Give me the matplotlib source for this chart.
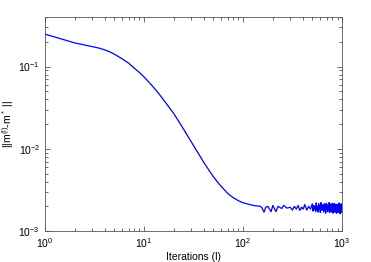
import matplotlib
matplotlib.use("Agg")
import matplotlib.pyplot as plt
from matplotlib.ticker import LogLocator, NullFormatter

plt.rcParams['font.family'] = ['Liberation Sans', 'DejaVu Sans']
plt.rcParams['mathtext.default'] = 'regular'

# smooth decay part
iters_main = [1, 1.25, 1.5, 1.75, 2, 2.5, 3, 3.5, 4, 4.5, 5, 6, 7, 8, 9, 10,
              11, 12, 13, 14, 16, 18, 20, 22, 25, 28, 32, 36, 40, 45, 50, 55,
              60, 65, 70, 75, 80, 90, 100, 115, 130, 150]
err_main = [0.248, 0.229, 0.215, 0.203, 0.194, 0.183, 0.175, 0.168, 0.160,
            0.151, 0.142, 0.1245, 0.110, 0.0955, 0.0847, 0.075, 0.0664,
            0.0592, 0.0528, 0.0475, 0.0385, 0.0318, 0.0268, 0.0224, 0.0175,
            0.01396, 0.0107, 0.0085, 0.0069, 0.00556, 0.00462, 0.00398,
            0.00351, 0.00316, 0.00288, 0.00269, 0.00254, 0.00234, 0.00221,
            0.00211, 0.00204, 0.00200]

# noisy plateau
iters_tail = [156, 163, 170, 178, 192, 200, 215, 226, 246, 258, 279, 300,
              315, 330, 345, 360, 375, 390, 405, 420, 440, 460, 480, 500,
              508, 516, 524, 532, 540, 548, 556, 564, 572, 580, 588, 596,
              604, 612, 620, 628, 636, 644, 652, 660, 668, 676, 684, 692,
              700, 708, 716, 724, 732, 740, 748, 756, 764, 772, 780, 788,
              796, 804, 812, 820, 828, 836, 844, 852, 860, 868, 876, 884,
              892, 900, 908, 916, 924, 932, 940, 948, 956, 964, 972, 980,
              988, 996, 1000]
err_tail = [0.00190, 0.00170, 0.00195, 0.00200, 0.00172, 0.00205, 0.00172,
            0.00200, 0.00188, 0.00205, 0.00190, 0.00195, 0.00180, 0.00200,
            0.00185, 0.00205, 0.00178, 0.00195, 0.00185, 0.00210, 0.00180,
            0.00200, 0.00185, 0.00215, 0.00175, 0.00205, 0.00185, 0.00200,
            0.00172, 0.00220, 0.00180, 0.00200, 0.00170, 0.00215, 0.00185,
            0.00205, 0.00168, 0.00222, 0.00178, 0.00210, 0.00182, 0.00200,
            0.00170, 0.00215, 0.00180, 0.00205, 0.00165, 0.00218, 0.00185,
            0.00200, 0.00172, 0.00212, 0.00178, 0.00222, 0.00168, 0.00205,
            0.00185, 0.00215, 0.00170, 0.00200, 0.00180, 0.00218, 0.00165,
            0.00205, 0.00182, 0.00215, 0.00170, 0.00200, 0.00178, 0.00212,
            0.00165, 0.00205, 0.00175, 0.00210, 0.00168, 0.00200, 0.00182,
            0.00220, 0.00170, 0.00208, 0.00162, 0.00212, 0.00178, 0.00205,
            0.00168, 0.00215, 0.00185]

iters = iters_main + iters_tail
err = err_main + err_tail

fig = plt.figure(figsize=(3.71, 2.62), dpi=100)
ax = fig.add_axes([0.121, 0.118, 0.801, 0.817])

ax.plot(iters, err, color='#0000ff', lw=0.9)

ax.set_xscale('log')
ax.set_yscale('log')
ax.set_xlim(1, 1000)
ax.set_ylim(1e-3, 0.4)

ax.xaxis.set_major_locator(LogLocator(base=10, numticks=10))
ax.xaxis.set_minor_locator(LogLocator(base=10, subs=range(2, 10), numticks=20))
ax.yaxis.set_major_locator(LogLocator(base=10, numticks=10))
ax.yaxis.set_minor_locator(LogLocator(base=10, subs=range(2, 10), numticks=20))
ax.xaxis.set_minor_formatter(NullFormatter())
ax.yaxis.set_minor_formatter(NullFormatter())

ax.tick_params(which='both', direction='in', top=True, right=True,
               labelsize=7.5, width=0.5, color='#333333')
ax.tick_params(which='major', length=3.5)
ax.tick_params(which='minor', length=2)
ax.tick_params(axis='x', pad=4)
for s in ax.spines.values():
    s.set_linewidth(0.6)
    s.set_color('#555555')

ax.set_xlabel('Iterations (l)', fontsize=7.5, labelpad=1)
ax.set_ylabel('||m$^{(l)}$-m$^*$ ||', fontsize=7.5, labelpad=2)

fig.savefig('out.png', dpi=100)
plt.close(fig)
